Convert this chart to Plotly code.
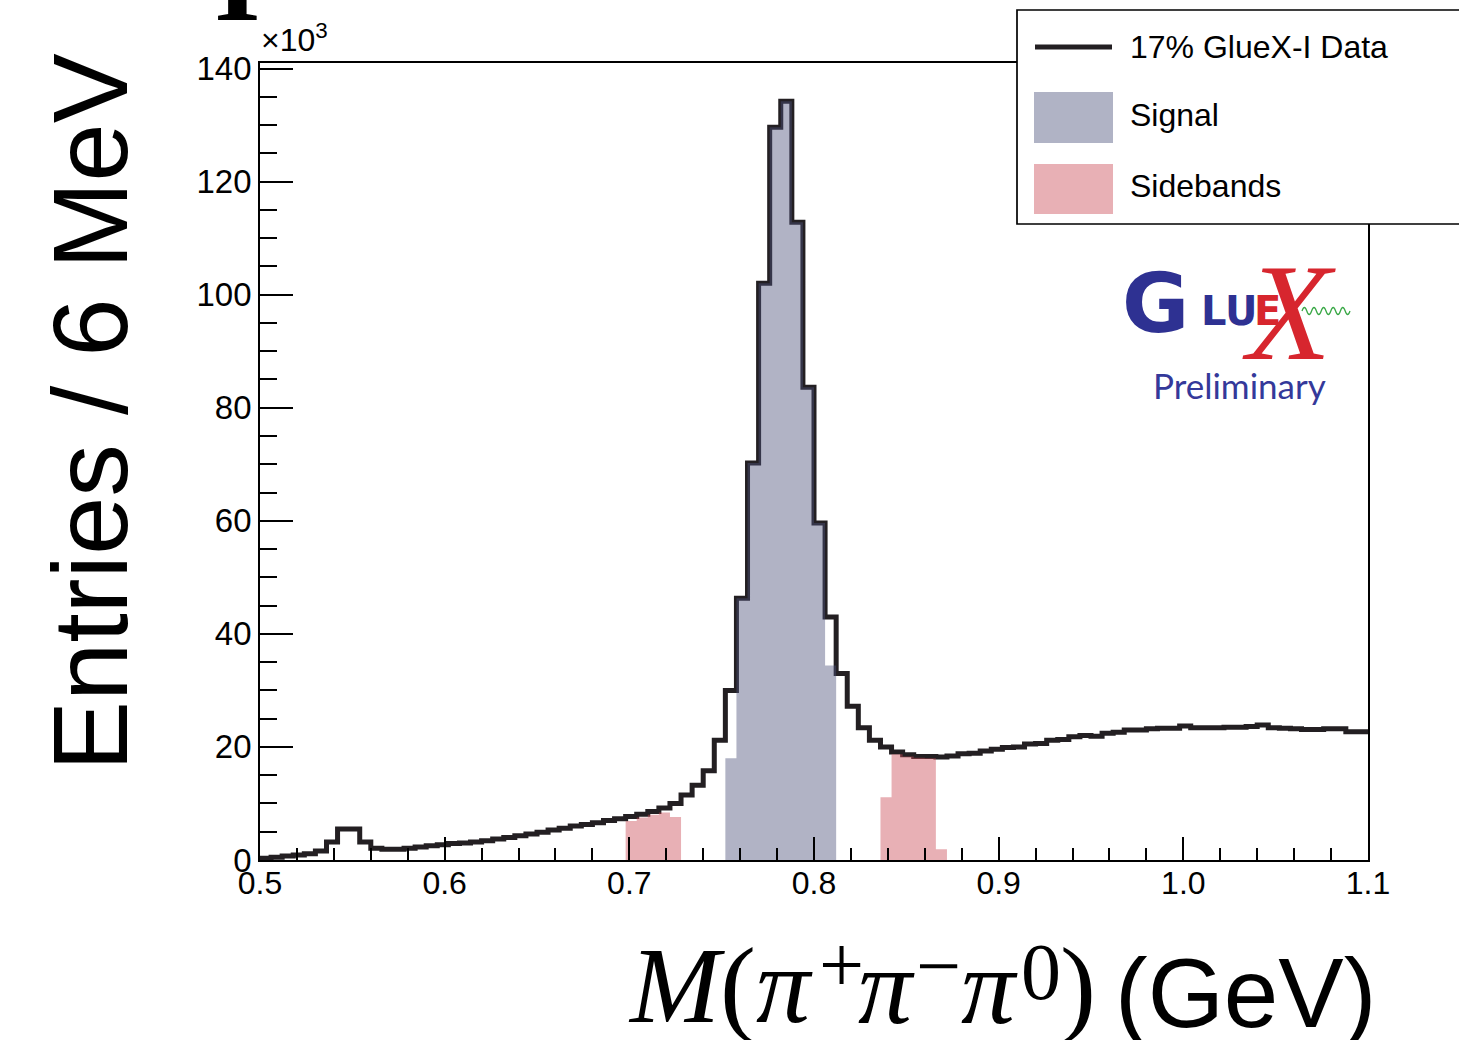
import numpy as np
import plotly.graph_objects as go

# ---------------- data (x10^3 entries per 6 MeV bin) ----------------
bin_lo = 0.5
bin_w = 0.006
data_counts = [
    0.3, 0.5, 0.7, 0.9, 1.1, 1.6, 3.2, 5.5, 5.5, 3.2,
    2.1, 1.9, 1.9, 2.1, 2.3, 2.5, 2.7, 2.9, 3.0, 3.2,
    3.4, 3.7, 4.0, 4.3, 4.6, 4.9, 5.3, 5.6, 6.0, 6.3,
    6.6, 7.0, 7.3, 7.7, 8.1, 8.6, 9.2, 10.0, 11.5, 13.2,
    15.8, 21.2, 30.0, 46.3, 70.2, 102.0, 129.6, 134.2, 112.8, 83.6,
    59.6, 43.0, 33.0, 27.2, 23.4, 21.2, 20.0, 19.1, 18.6, 18.3,
    18.3, 18.2, 18.4, 18.8, 18.9, 19.3, 19.6, 19.9, 20.0, 20.5,
    20.6, 21.2, 21.3, 21.8, 22.0, 21.9, 22.4, 22.6, 23.0, 23.0,
    23.2, 23.3, 23.3, 23.7, 23.4, 23.4, 23.4, 23.5, 23.5, 23.6,
    23.9, 23.4, 23.3, 23.2, 23.1, 23.1, 23.2, 23.2, 22.7, 22.7,
]
signal_first_bin = 42
signal_counts = [18.0, 46.3, 70.2, 102.0, 129.6, 134.2, 112.8, 83.6, 59.6, 34.4]
sb_left_first_bin = 33
sb_left_counts = [6.9, 7.5, 8.0, 8.4, 7.6]
sb_right_first_bin = 56
sb_right_counts = [11.1, 18.7, 18.3, 18.1, 18.0, 1.9]

x_tick_labels = ["0.5", "0.6", "0.7", "0.8", "0.9", "1.0", "1.1"]
y_tick_vals = [0, 20, 40, 60, 80, 100, 120, 140]

# ---------------- helpers ----------------
def step_xy(first_bin, counts):
    edges = bin_lo + bin_w * np.arange(first_bin, first_bin + len(counts) + 1)
    ys = list(counts) + [counts[-1]]
    return edges, ys

W, H = 1459, 1040
L, R, T, B = 260, 1368, 63, 860
def px(X):
    return (X - L) / (R - L)
def py(Y):
    return (B - Y) / (B - T)

SANS = "Liberation Sans, Arial, Helvetica, sans-serif"
SERIF = "Liberation Serif, Times New Roman, serif"
LINE_C = "#231f22"
SIG_SOLID = "#b0b3c5"
SB_SOLID = "#e8b0b5"

fig = go.Figure()

dx, dy = step_xy(0, data_counts)
fig.add_trace(go.Scatter(x=dx, y=dy, mode="lines", name="17% GlueX-I Data",
                         line=dict(color=LINE_C, width=5, shape="hv"),
                         showlegend=False, hoverinfo="skip"))

sx, sy = step_xy(signal_first_bin, signal_counts)
fig.add_trace(go.Scatter(x=sx, y=sy, mode="lines", name="Signal", fill="tozeroy",
                         fillcolor="rgba(77,82,123,0.44)",
                         line=dict(width=0, shape="hv"), showlegend=False, hoverinfo="skip"))
for fb, cts in ((sb_left_first_bin, sb_left_counts), (sb_right_first_bin, sb_right_counts)):
    bx, byv = step_xy(fb, cts)
    fig.add_trace(go.Scatter(x=bx, y=byv, mode="lines", name="Sidebands", fill="tozeroy",
                             fillcolor="rgba(203,75,87,0.44)",
                             line=dict(width=0, shape="hv"), showlegend=False, hoverinfo="skip"))

ymax = (B - T) / ((B - 68.5) / 140.0)

fig.update_layout(
    width=W, height=H, autosize=False,
    margin=dict(l=L, r=W - R, t=T, b=H - B, pad=0),
    paper_bgcolor="white", plot_bgcolor="white",
    showlegend=False,
    xaxis=dict(range=[0.5, 1.1], tickmode="array",
               tickvals=[0.5, 0.6, 0.7, 0.8, 0.9, 1.0, 1.1], ticktext=x_tick_labels,
               ticks="inside", ticklen=23, tickwidth=1.7, tickcolor="black",
               ticklabelstandoff=-6,
               minor=dict(tickmode="linear", tick0=0.5, dtick=0.02, ticks="inside",
                          ticklen=12, tickwidth=1.7, tickcolor="black"),
               showline=True, linecolor="black", linewidth=1.7, mirror=True,
               showgrid=False, zeroline=False,
               tickfont=dict(family=SANS, size=32, color="black")),
    yaxis=dict(range=[0, ymax], tickmode="array", tickvals=y_tick_vals,
               ticktext=[str(v) for v in y_tick_vals],
               ticks="inside", ticklen=33, tickwidth=1.7, tickcolor="black",
               minor=dict(tickmode="linear", tick0=0, dtick=5, ticks="inside",
                          ticklen=17, tickwidth=1.7, tickcolor="black"),
               showline=True, linecolor="black", linewidth=1.7, mirror=True,
               showgrid=False, zeroline=False,
               tickfont=dict(family=SANS, size=33, color="black")),
)

ann = []
def text(X, Y, s, size, family, color="black", xa="center", ya="middle", angle=0):
    ann.append(dict(x=px(X), y=py(Y), xref="paper", yref="paper", xanchor=xa, yanchor=ya,
                    text=s, textangle=angle, showarrow=False,
                    font=dict(family=family, size=size, color=color)))

# x10^3
text(259, 60, "×10<sup>3</sup>", 32, SANS, xa="left", ya="bottom")
# Y title
text(90, 412, "Entries / 6 MeV", 105, SANS, angle=-90)
# X title, pieces
TS = 108
text(626, 1048, "<i>M</i>(<i>π</i>", TS, SERIF, xa="left", ya="bottom")
text(886, 1048, "<i>π</i>", TS, SERIF, xa="center", ya="bottom")
text(989, 1048, "<i>π</i>", TS, SERIF, xa="center", ya="bottom")
text(1058, 1048, ")", TS, SERIF, xa="left", ya="bottom")
text(841, 965, "+", 80, SERIF)
text(938, 966, "−", 80, SERIF)
text(1041, 972, "0", 80, SERIF)
text(1378, 1050, "(GeV)", 98, SANS, xa="right", ya="bottom")
# clipped glyph at top
text(237, 48, "<b>I</b>", 120, SERIF, ya="bottom")

# Legend (drawn)
shapes = []
shapes.append(dict(type="rect", xref="paper", yref="paper", x0=px(1017), x1=px(1475),
                   y0=py(224), y1=py(10), fillcolor="white", line=dict(color="black", width=1.7),
                   layer="above"))
shapes.append(dict(type="line", xref="paper", yref="paper", x0=px(1035), x1=px(1112),
                   y0=py(47), y1=py(47), line=dict(color=LINE_C, width=5), layer="above"))
shapes.append(dict(type="rect", xref="paper", yref="paper", x0=px(1034), x1=px(1113),
                   y0=py(143), y1=py(92), fillcolor=SIG_SOLID, line=dict(width=0), layer="above"))
shapes.append(dict(type="rect", xref="paper", yref="paper", x0=px(1034), x1=px(1113),
                   y0=py(214), y1=py(164), fillcolor=SB_SOLID, line=dict(width=0), layer="above"))
for txt, yc in (("17% GlueX-I Data", 47), ("Signal", 115), ("Sidebands", 186)):
    text(1128, yc, txt, 32, SANS, xa="left")

# GlueX logo
BLUE = "#2e3192"
RED = "#d7262e"
text(1120, 303, "<b>G</b>", 82, "DejaVu Sans", BLUE, xa="left")
text(1199, 311, "<b>LU</b>", 40, "DejaVu Sans", BLUE, xa="left")
text(1252, 311, "<b>E</b>", 40, "DejaVu Sans", RED, xa="left")
text(1289, 312, "<i>X</i>", 138, SERIF, RED)
text(1239, 385, "Preliminary", 35, "Lato", "#34399a")
# wavy photon line
wx0, wx1, wyc, amp, nper = 1302, 1350, 311, 3.5, 5
seg = (wx1 - wx0) / (2 * nper)
path = f"M {px(wx0)},{py(wyc)}"
for k in range(2 * nper):
    xa_ = wx0 + seg * k
    sgn = -1 if k % 2 == 0 else 1
    path += f" Q {px(xa_ + seg/2)},{py(wyc + sgn*2*amp)} {px(xa_ + seg)},{py(wyc)}"
shapes.append(dict(type="path", xref="paper", yref="paper", path=path,
                   line=dict(color="#3aa847", width=1.3), layer="above"))

fig.update_layout(annotations=ann, shapes=shapes)

fig.write_html("out.html", post_script="document.body.style.margin='0';")
